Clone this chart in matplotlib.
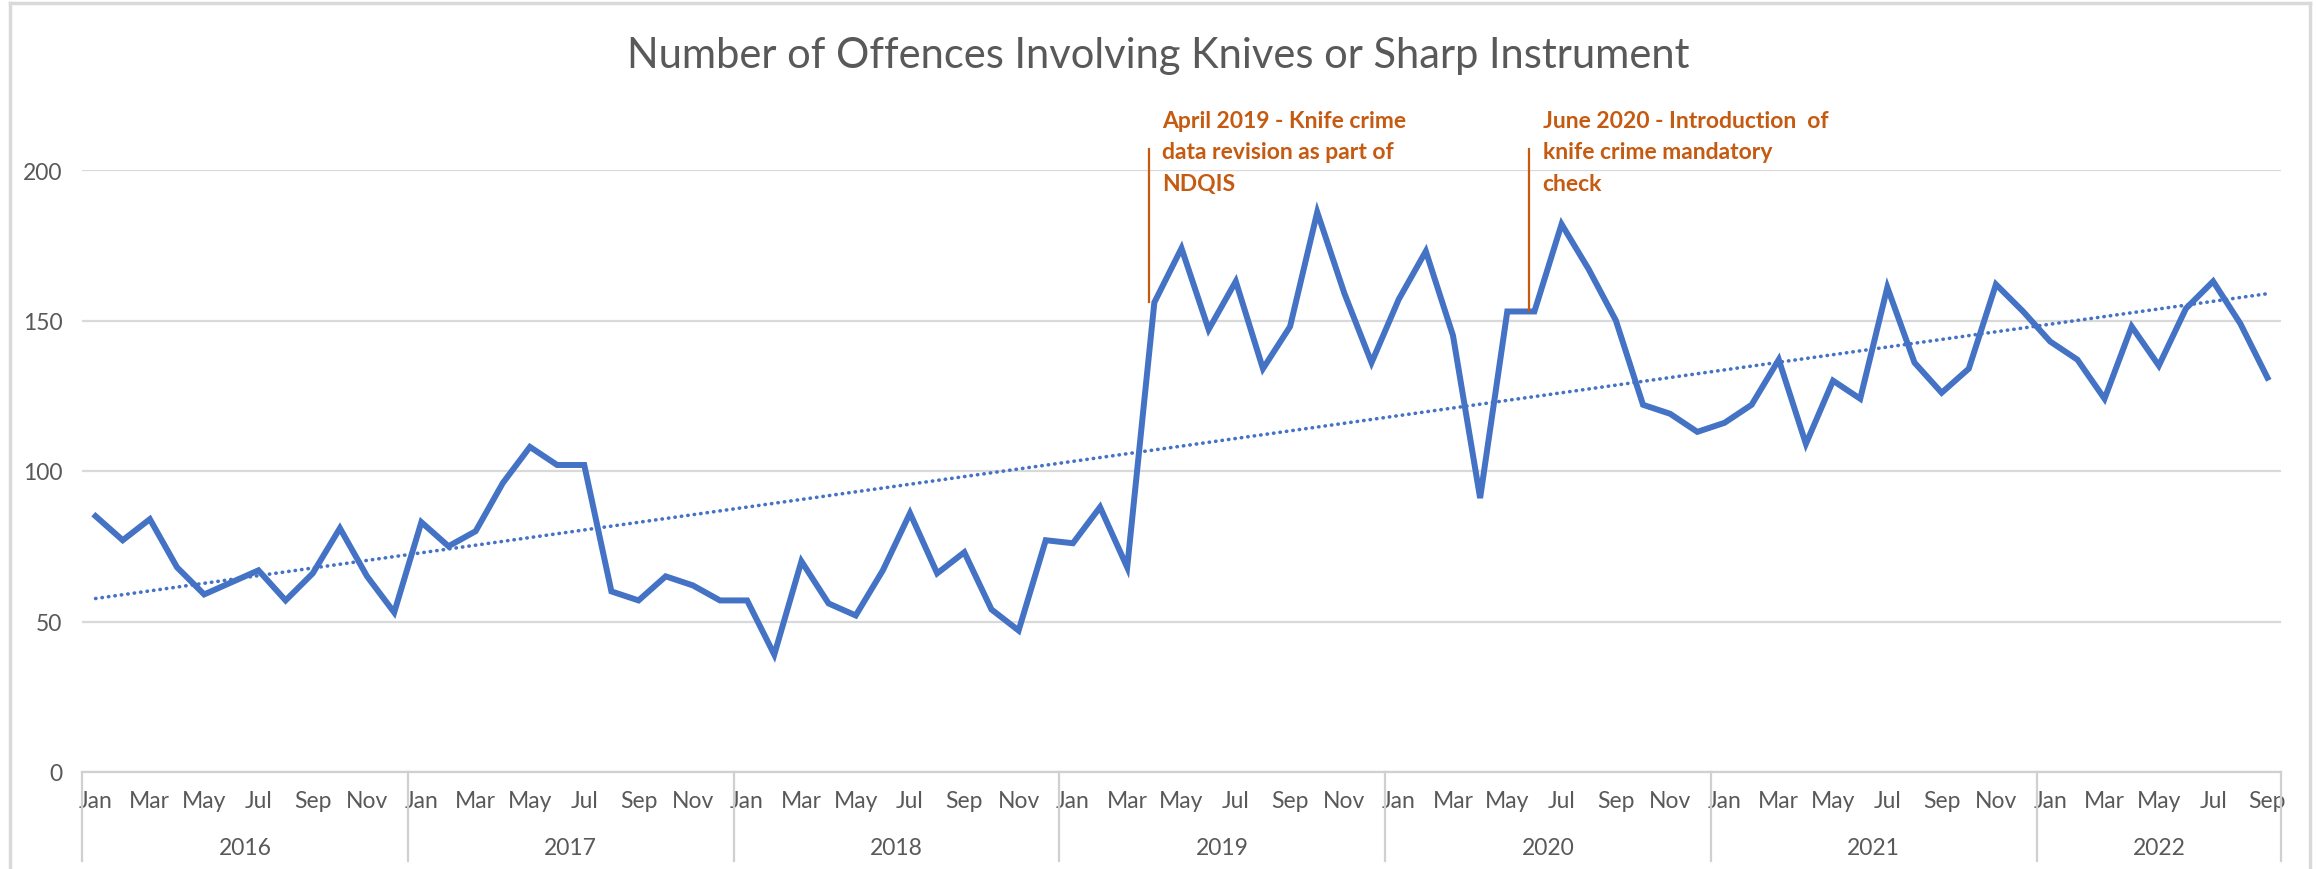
import numpy as np
import matplotlib
matplotlib.use("Agg")
from matplotlib import pyplot as plt
from matplotlib.lines import Line2D
import matplotlib.transforms as mtransforms

plt.rcParams['font.family'] = ['Lato', 'DejaVu Sans']

# monthly offences, Jan 2016 - Sep 2022
years = ['2016', '2017', '2018', '2019', '2020', '2021', '2022']
months = ['Jan', 'Feb', 'Mar', 'Apr', 'May', 'Jun', 'Jul', 'Aug', 'Sep', 'Oct', 'Nov', 'Dec']
offences = [
    85, 77, 84, 68, 59, 63, 67, 57, 66, 81, 65, 53,       # 2016
    83, 75, 80, 96, 108, 102, 102, 60, 57, 65, 62, 57,    # 2017
    57, 39, 70, 56, 52, 67, 86, 66, 73, 54, 47, 77,       # 2018
    76, 88, 68, 156, 174, 147, 163, 134, 148, 186, 159, 136,  # 2019
    157, 173, 145, 91, 153, 153, 182, 167, 150, 122, 119, 113,  # 2020
    116, 122, 137, 109, 130, 124, 161, 136, 126, 134, 162, 153,  # 2021
    143, 137, 124, 148, 135, 154, 163, 149, 131,           # 2022
]
notes = [
    ('Apr', '2019', 'April 2019 - Knife crime\ndata revision as part of\nNDQIS'),
    ('Jun', '2020', 'June 2020 - Introduction  of\nknife crime mandatory\ncheck'),
]

n = len(offences)
x = np.arange(n)
labels = [months[i % 12] for i in range(n)]

blue = '#4472C4'
orange = '#C55A11'
grey = '#595959'
grid = '#D9D9D9'

W, H = 2318, 870
fig = plt.figure(figsize=(W / 100, H / 100), dpi=100)
ax = fig.add_axes([82 / W, 1 - 773 / H, 2199 / W, 602 / H])

ax.plot(x, offences, color=blue, lw=4.3, solid_joinstyle='miter', zorder=3)

# linear trendline like excel
k, b = np.polyfit(x, offences, 1)
ax.plot(x, k * x + b, color=blue, lw=2.6, ls=(0, (0.1, 1.7)), dash_capstyle='round', zorder=2)

ax.set_xlim(-0.5, n - 0.5)
ax.set_ylim(0, 200)
ax.set_yticks([0, 50, 100, 150, 200])
ax.yaxis.grid(True, color=grid, lw=1.6)
ax.set_axisbelow(True)
for s in ['top', 'right', 'left']:
    ax.spines[s].set_visible(False)
ax.spines['bottom'].set_color('#D0D0D0')
ax.spines['bottom'].set_linewidth(1.6)
ax.tick_params(axis='y', length=0, pad=14, labelsize=16.5, labelcolor=grey)

ax.set_xticks(x[::2])
ax.set_xticklabels(labels[::2])
ax.tick_params(axis='x', length=0, pad=13, labelsize=16.5, labelcolor=grey)

# year groups under the month labels
trans = mtransforms.blended_transform_factory(ax.transData, ax.transAxes)
for i, yr in enumerate(years):
    start = i * 12
    end = min(start + 12, n)
    ax.text((start + end - 1) / 2, -0.125, yr, transform=trans, ha='center', va='center',
            fontsize=16.5, color=grey)
for edge in list(range(0, n, 12)) + [n]:
    ax.plot([edge - 0.5, edge - 0.5], [0, -0.148], transform=trans, color='#D0D0D0',
            lw=1.6, clip_on=False)

# annotations
for mon, yr, txt in notes:
    i = years.index(yr) * 12 + months.index(mon)
    ax.plot([i - 0.2, i - 0.2], [offences[i], 207], color=orange, lw=1.6, clip_on=False, zorder=4)
    ax.text(i + 0.3, 206, txt, ha='left', va='center', fontsize=16.5, fontweight='bold',
            color=orange, linespacing=1.62)

fig.text(1158 / W, 1 - 56 / H, 'Number of Offences Involving Knives or Sharp Instrument',
         ha='center', va='center', fontsize=30, color=grey)

# chart border
fig.add_artist(Line2D([10 / W, 10 / W], [0, 1 - 4 / H], color=grid, lw=2.5))
fig.add_artist(Line2D([10 / W, 2310 / W], [1 - 4 / H, 1 - 4 / H], color=grid, lw=2.5))
fig.add_artist(Line2D([2310 / W, 2310 / W], [0, 1 - 4 / H], color=grid, lw=2.5))

fig.savefig('out.png', dpi=100)
